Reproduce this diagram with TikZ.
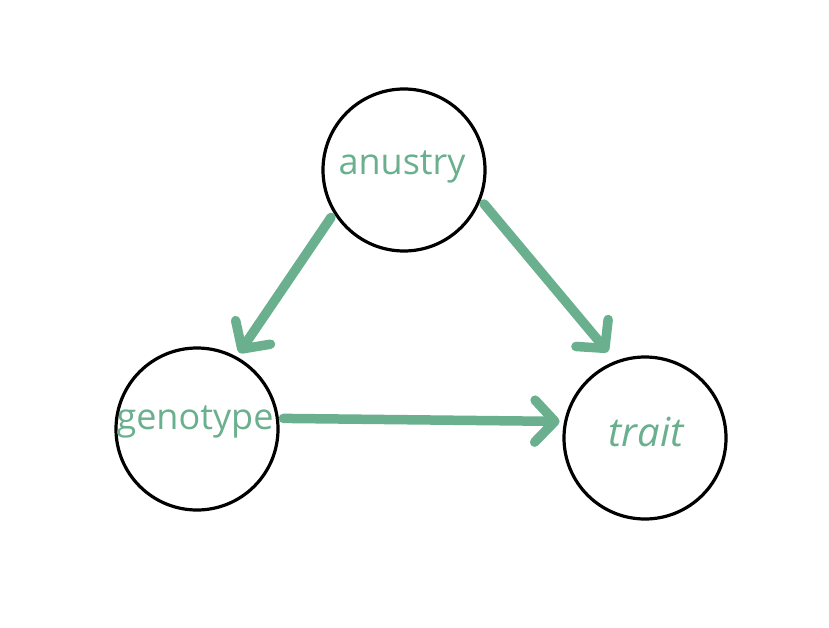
\documentclass[tikz,border=0pt]{standalone}
\usepackage{fontspec}
\setmainfont{Open Sans}
\usetikzlibrary{arrows.meta}
\definecolor{sage}{HTML}{6AAF8E}
\begin{document}
\begin{tikzpicture}[x=1pt,y=-1pt,
  bubble/.style={circle,draw=black,line width=3.2pt,minimum size=162pt,inner sep=0pt,outer sep=6pt},
  word/.style={text=sage,font=\fontsize{36}{40}\selectfont},
  link/.style={draw=sage,line width=9.5pt,line cap=round,
    -{Straight Barb[length=20pt,width=42pt,line width=9.5pt,round]}}]
\useasboundingbox (0,0) rectangle (829,628);
\node[bubble] (anc) at (404,170) {};
\node[bubble] (gen) at (197,429) {};
\node[bubble] (tra) at (645,438) {};
\node[word] at (402,167) {anustry};
\node[word] at (195,422) {genotype};
\node[word,font=\fontsize{40}{44}\selectfont\itshape] at (646,432) {trait};
\draw[link] (anc.213) -- (gen.61);
\draw[link,shorten >=7pt] (anc.337) -- (tra.112);
\draw[link] (gen.7) -- (tra.169);
\end{tikzpicture}
\end{document}
